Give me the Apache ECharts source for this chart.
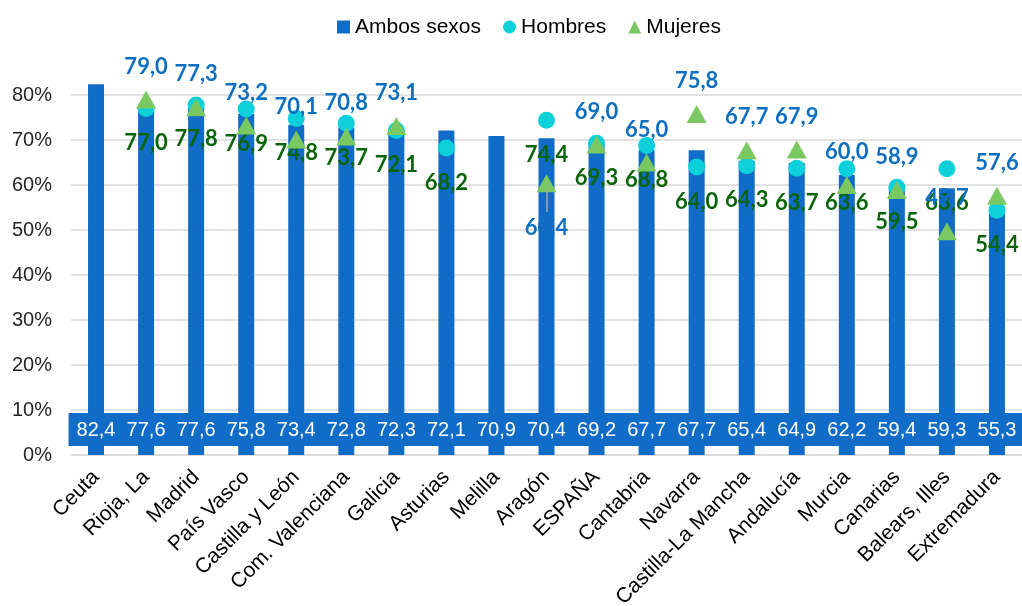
<!DOCTYPE html>
<html>
<head>
<meta charset="utf-8">
<script src="https://cdn.jsdelivr.net/npm/echarts@6/dist/echarts.min.js"></script>
<style>
  html, body { margin: 0; padding: 0; background: #fff; }
  #chart { width: 1022px; height: 606px; }
</style>
</head>
<body>
<div id="chart"></div>
<script>
const categories = ['Ceuta','Rioja, La','Madrid','País Vasco','Castilla y León','Com. Valenciana','Galicia','Asturias','Melilla','Aragón','ESPAÑA','Cantabria','Navarra','Castilla-La Mancha','Andalucía','Murcia','Canarias','Balears, Illes','Extremadura'];
const ambos = [82.4,77.6,77.6,75.8,73.4,72.8,72.3,72.1,70.9,70.4,69.2,67.7,67.7,65.4,64.9,62.2,59.4,59.3,55.3];
const hombres = [null,77.0,77.8,76.9,74.8,73.7,72.1,68.2,null,74.4,69.3,68.8,64.0,64.3,63.7,63.6,59.5,63.6,54.4];
const mujeres = [null,79.0,77.3,73.2,70.1,70.8,73.1,null,null,60.4,69.0,65.0,75.8,67.7,67.9,60.0,58.9,49.7,57.6];
const yTicks = [0,10,20,30,40,50,60,70,80];

const fmt = p => (Array.isArray(p.value) ? p.value[1] : p.value).toFixed(1).replace('.', ',');
const mujeresBelow = ['Aragón'];
const leaderIdx = categories.indexOf('Aragón');

const chart = echarts.init(document.getElementById('chart'), null, { renderer: 'canvas' });
chart.setOption({
  animation: false,
  textStyle: { fontFamily: 'Arial, "Liberation Sans", sans-serif' },
  legend: {
    top: 10,
    left: 332,
    itemGap: 22,
    itemWidth: 13,
    itemHeight: 13,
    textStyle: { fontSize: 21, color: '#000', lineHeight: 24 },
    data: [
      { name: 'Ambos sexos', icon: 'rect' },
      { name: 'Hombres', icon: 'circle' },
      { name: 'Mujeres', icon: 'triangle' }
    ]
  },
  grid: { left: 71, right: 0, top: 95, bottom: 151, containLabel: false, outerBoundsMode: 'none' },
  xAxis: {
    type: 'category',
    data: categories,
    axisLine: { show: true, lineStyle: { color: '#D9D9D9', width: 1.5 } },
    axisTick: { show: false },
    axisLabel: { rotate: 45, interval: 0, fontSize: 21, color: '#000', margin: 19 }
  },
  yAxis: {
    type: 'value',
    min: yTicks[0],
    max: yTicks[yTicks.length - 1],
    interval: 10,
    axisLine: { show: false },
    axisTick: { show: false },
    axisLabel: { formatter: '{value}%', fontSize: 20, color: '#262626', margin: 19 },
    splitLine: { lineStyle: { color: '#D9D9D9', width: 1.5 } }
  },
  series: [
    {
      name: 'Ambos sexos',
      type: 'bar',
      data: ambos,
      barWidth: 16,
      clip: false,
      itemStyle: { color: '#106CC6' },
      z: 2,
      label: {
        show: true,
        position: 'insideBottom',
        distance: 9,
        formatter: fmt,
        color: '#fff',
        fontSize: 20,
        lineHeight: 20,
        backgroundColor: '#106CC6',
        padding: [7, 8, 6, 8]
      }
    },
    {
      name: 'Hombres',
      type: 'scatter',
      data: hombres,
      symbol: 'circle',
      symbolSize: 17,
      clip: false,
      itemStyle: { color: '#0DD0DA', opacity: 1 },
      z: 3,
      label: {
        show: true,
        position: 'bottom',
        distance: 15,
        formatter: fmt,
        color: '#0A650A',
        fontFamily: 'Lato, sans-serif',
        fontWeight: 'bold',
        fontSize: 22,
        lineHeight: 22
      }
    },
    {
      name: 'Mujeres',
      type: 'scatter',
      data: mujeres.map((v, i) => mujeresBelow.includes(categories[i])
        ? { value: v, label: { position: 'bottom', distance: 25 } }
        : v),
      symbol: 'triangle',
      symbolSize: [20, 18],
      clip: false,
      itemStyle: { color: '#7AC862', opacity: 1 },
      z: 4,
      label: {
        show: true,
        position: 'top',
        distance: 13,
        formatter: fmt,
        color: '#0C6FC1',
        fontFamily: 'Lato, sans-serif',
        fontWeight: 'bold',
        fontSize: 22,
        lineHeight: 22
      },
      markLine: {
        silent: true,
        symbol: 'none',
        label: { show: false },
        lineStyle: { color: '#A6A6A6', width: 1.5, type: 'solid' },
        data: [[
          { coord: [leaderIdx, mujeres[leaderIdx] - 1.5] },
          { coord: [leaderIdx, mujeres[leaderIdx] - 6.4] }
        ]]
      }
    }
  ]
});
</script>
</body>
</html>
